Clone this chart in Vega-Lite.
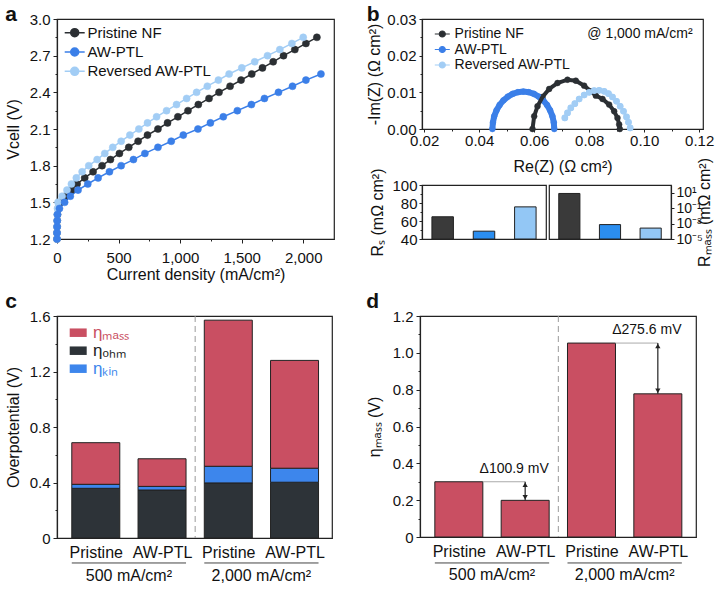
{
"$schema":"https://vega.github.io/schema/vega-lite/v6.json",
"background":"white",
"padding":{"left":4,"top":3,"right":0,"bottom":0},
"config":{
 "font":"Liberation Sans",
 "view":{"stroke":"#222","strokeWidth":1.2},
 "axis":{"grid":false,"domainColor":"#222","tickColor":"#222","labelColor":"#111","titleColor":"#111","labelFontSize":15,"titleFontSize":16,"titleFontWeight":"normal","tickSize":4,"domainWidth":1.2,"labelPadding":3,"labelFlush":false,"labelOverlap":false},
 "title":{"fontSize":21,"fontWeight":"bold","anchor":"start","frame":"bounds","color":"#111"},
 "legend":{"labelFontSize":15,"labelColor":"#111"}
},
"datasets":{
 "curves":[
  {"s":"Pristine NF","j":0,"v":1.2},{"s":"Pristine NF","j":0,"v":1.25},{"s":"Pristine NF","j":1,"v":1.3},{"s":"Pristine NF","j":2,"v":1.35},{"s":"Pristine NF","j":4,"v":1.4},{"s":"Pristine NF","j":10,"v":1.45},
  {"s":"Pristine NF","j":27,"v":1.5},{"s":"Pristine NF","j":68,"v":1.55},{"s":"Pristine NF","j":117,"v":1.6},{"s":"Pristine NF","j":163,"v":1.65},{"s":"Pristine NF","j":225,"v":1.7},{"s":"Pristine NF","j":293,"v":1.75},{"s":"Pristine NF","j":366,"v":1.8},{"s":"Pristine NF","j":434,"v":1.85},{"s":"Pristine NF","j":507,"v":1.9},{"s":"Pristine NF","j":583,"v":1.95},
  {"s":"Pristine NF","j":659,"v":2.0},{"s":"Pristine NF","j":735,"v":2.05},{"s":"Pristine NF","j":820,"v":2.1},{"s":"Pristine NF","j":898,"v":2.15},{"s":"Pristine NF","j":982,"v":2.2},{"s":"Pristine NF","j":1064,"v":2.25},{"s":"Pristine NF","j":1148,"v":2.3},{"s":"Pristine NF","j":1235,"v":2.35},{"s":"Pristine NF","j":1316,"v":2.4},{"s":"Pristine NF","j":1406,"v":2.45},
  {"s":"Pristine NF","j":1495,"v":2.5},{"s":"Pristine NF","j":1582,"v":2.55},{"s":"Pristine NF","j":1669,"v":2.6},{"s":"Pristine NF","j":1756,"v":2.65},{"s":"Pristine NF","j":1840,"v":2.7},{"s":"Pristine NF","j":1932,"v":2.75},{"s":"Pristine NF","j":2022,"v":2.8},{"s":"Pristine NF","j":2111,"v":2.85},
  {"s":"Reversed AW-PTL","j":0,"v":1.2},{"s":"Reversed AW-PTL","j":0,"v":1.25},{"s":"Reversed AW-PTL","j":0,"v":1.3},{"s":"Reversed AW-PTL","j":1,"v":1.35},{"s":"Reversed AW-PTL","j":2,"v":1.4},{"s":"Reversed AW-PTL","j":4,"v":1.45},
  {"s":"Reversed AW-PTL","j":8,"v":1.5},{"s":"Reversed AW-PTL","j":41,"v":1.55},{"s":"Reversed AW-PTL","j":81,"v":1.6},{"s":"Reversed AW-PTL","j":117,"v":1.65},{"s":"Reversed AW-PTL","j":157,"v":1.7},{"s":"Reversed AW-PTL","j":204,"v":1.75},{"s":"Reversed AW-PTL","j":258,"v":1.8},{"s":"Reversed AW-PTL","j":326,"v":1.85},{"s":"Reversed AW-PTL","j":388,"v":1.9},{"s":"Reversed AW-PTL","j":453,"v":1.95},
  {"s":"Reversed AW-PTL","j":521,"v":2.0},{"s":"Reversed AW-PTL","j":592,"v":2.05},{"s":"Reversed AW-PTL","j":665,"v":2.1},{"s":"Reversed AW-PTL","j":735,"v":2.15},{"s":"Reversed AW-PTL","j":809,"v":2.2},{"s":"Reversed AW-PTL","j":890,"v":2.25},{"s":"Reversed AW-PTL","j":971,"v":2.3},{"s":"Reversed AW-PTL","j":1053,"v":2.35},{"s":"Reversed AW-PTL","j":1134,"v":2.4},{"s":"Reversed AW-PTL","j":1221,"v":2.45},
  {"s":"Reversed AW-PTL","j":1311,"v":2.5},{"s":"Reversed AW-PTL","j":1398,"v":2.55},{"s":"Reversed AW-PTL","j":1501,"v":2.6},{"s":"Reversed AW-PTL","j":1606,"v":2.65},{"s":"Reversed AW-PTL","j":1710,"v":2.7},{"s":"Reversed AW-PTL","j":1810,"v":2.75},{"s":"Reversed AW-PTL","j":1908,"v":2.8},{"s":"Reversed AW-PTL","j":2000,"v":2.85},
  {"s":"AW-PTL","j":0,"v":1.2},{"s":"AW-PTL","j":0,"v":1.25},{"s":"AW-PTL","j":1,"v":1.3},{"s":"AW-PTL","j":2,"v":1.35},{"s":"AW-PTL","j":4,"v":1.4},{"s":"AW-PTL","j":20,"v":1.45},
  {"s":"AW-PTL","j":62,"v":1.5},{"s":"AW-PTL","j":108,"v":1.55},{"s":"AW-PTL","j":171,"v":1.6},{"s":"AW-PTL","j":250,"v":1.65},{"s":"AW-PTL","j":334,"v":1.7},{"s":"AW-PTL","j":426,"v":1.75},{"s":"AW-PTL","j":521,"v":1.8},{"s":"AW-PTL","j":621,"v":1.85},{"s":"AW-PTL","j":714,"v":1.9},{"s":"AW-PTL","j":820,"v":1.95},
  {"s":"AW-PTL","j":928,"v":2.0},{"s":"AW-PTL","j":1026,"v":2.05},{"s":"AW-PTL","j":1145,"v":2.1},{"s":"AW-PTL","j":1246,"v":2.15},{"s":"AW-PTL","j":1351,"v":2.2},{"s":"AW-PTL","j":1465,"v":2.25},{"s":"AW-PTL","j":1579,"v":2.3},{"s":"AW-PTL","j":1685,"v":2.35},{"s":"AW-PTL","j":1799,"v":2.4},{"s":"AW-PTL","j":1913,"v":2.45},
  {"s":"AW-PTL","j":2022,"v":2.5},{"s":"AW-PTL","j":2144,"v":2.55}
 ],
 "eis":[
  {"s":"AW-PTL","x":0.0448,"y":0},{"s":"AW-PTL","x":0.0450,"y":0.00177},{"s":"AW-PTL","x":0.04547,"y":0.00349},{"s":"AW-PTL","x":0.04631,"y":0.0051},{"s":"AW-PTL","x":0.04743,"y":0.00656},{"s":"AW-PTL","x":0.04882,"y":0.00781},{"s":"AW-PTL","x":0.05042,"y":0.00883},{"s":"AW-PTL","x":0.0522,"y":0.00959},{"s":"AW-PTL","x":0.05409,"y":0.01005},{"s":"AW-PTL","x":0.05605,"y":0.0102},
  {"s":"AW-PTL","x":0.05801,"y":0.01005},{"s":"AW-PTL","x":0.0599,"y":0.00959},{"s":"AW-PTL","x":0.06168,"y":0.00883},{"s":"AW-PTL","x":0.06328,"y":0.00781},{"s":"AW-PTL","x":0.06467,"y":0.00656},{"s":"AW-PTL","x":0.06579,"y":0.0051},{"s":"AW-PTL","x":0.06663,"y":0.00349},{"s":"AW-PTL","x":0.06713,"y":0.00177},{"s":"AW-PTL","x":0.0673,"y":0},
  {"s":"Reversed AW-PTL","x":0.07115,"y":0.00303},{"s":"Reversed AW-PTL","x":0.07212,"y":0.00439},{"s":"Reversed AW-PTL","x":0.07333,"y":0.00575},{"s":"Reversed AW-PTL","x":0.07479,"y":0.00692},{"s":"Reversed AW-PTL","x":0.07636,"y":0.00819},{"s":"Reversed AW-PTL","x":0.07818,"y":0.00928},{"s":"Reversed AW-PTL","x":0.08,"y":0.01},{"s":"Reversed AW-PTL","x":0.08182,"y":0.01045},{"s":"Reversed AW-PTL","x":0.08364,"y":0.01054},
  {"s":"Reversed AW-PTL","x":0.08545,"y":0.01027},{"s":"Reversed AW-PTL","x":0.08703,"y":0.00964},{"s":"Reversed AW-PTL","x":0.08848,"y":0.00873},{"s":"Reversed AW-PTL","x":0.08994,"y":0.00756},{"s":"Reversed AW-PTL","x":0.09127,"y":0.0062},{"s":"Reversed AW-PTL","x":0.09248,"y":0.00484},{"s":"Reversed AW-PTL","x":0.09358,"y":0.0033},{"s":"Reversed AW-PTL","x":0.0943,"y":0.00185},{"s":"Reversed AW-PTL","x":0.09491,"y":0.0003},
  {"s":"Pristine NF","x":0.05939,"y":0},{"s":"Pristine NF","x":0.06,"y":0.00348},{"s":"Pristine NF","x":0.06121,"y":0.0062},{"s":"Pristine NF","x":0.06303,"y":0.00873},{"s":"Pristine NF","x":0.06545,"y":0.01091},{"s":"Pristine NF","x":0.06848,"y":0.01254},{"s":"Pristine NF","x":0.07212,"y":0.01344},{"s":"Pristine NF","x":0.07515,"y":0.01317},{"s":"Pristine NF","x":0.07818,"y":0.01181},
  {"s":"Pristine NF","x":0.08061,"y":0.01027},{"s":"Pristine NF","x":0.08242,"y":0.0091},{"s":"Pristine NF","x":0.08485,"y":0.00819},{"s":"Pristine NF","x":0.08727,"y":0.00665},{"s":"Pristine NF","x":0.08909,"y":0.00484},{"s":"Pristine NF","x":0.0903,"y":0.00303},{"s":"Pristine NF","x":0.09091,"y":0.00122},{"s":"Pristine NF","x":0.09115,"y":0}
 ],
 "res":[
  {"s":"Pristine NF","rs":64.7,"rm":8},
  {"s":"AW-PTL","rs":48.7,"rm":0.00074},
  {"s":"Reversed AW-PTL","rs":75.7,"rm":0.00026}
 ],
 "eta":[
  {"pos":1,"grp":"500 mA/cm²","comp":"ohm","v":0.358},{"pos":1,"grp":"500 mA/cm²","comp":"kin","v":0.029},{"pos":1,"grp":"500 mA/cm²","comp":"mass","v":0.300},
  {"pos":2,"grp":"500 mA/cm²","comp":"ohm","v":0.346},{"pos":2,"grp":"500 mA/cm²","comp":"kin","v":0.026},{"pos":2,"grp":"500 mA/cm²","comp":"mass","v":0.199},
  {"pos":3,"grp":"2,000 mA/cm²","comp":"ohm","v":0.397},{"pos":3,"grp":"2,000 mA/cm²","comp":"kin","v":0.120},{"pos":3,"grp":"2,000 mA/cm²","comp":"mass","v":1.053},
  {"pos":4,"grp":"2,000 mA/cm²","comp":"ohm","v":0.402},{"pos":4,"grp":"2,000 mA/cm²","comp":"kin","v":0.101},{"pos":4,"grp":"2,000 mA/cm²","comp":"mass","v":0.777}
 ],
 "mass":[
  {"pos":1,"grp":"500 mA/cm²","v":0.300},
  {"pos":2,"grp":"500 mA/cm²","v":0.1991},
  {"pos":3,"grp":"2,000 mA/cm²","v":1.053},
  {"pos":4,"grp":"2,000 mA/cm²","v":0.7774}
 ],
 "delta":[
  {"p":1,"q":2,"from":0.300,"to":0.1991,"label":"Δ100.9 mV"},
  {"p":3,"q":4,"from":1.053,"to":0.7774,"label":"Δ275.6 mV"}
 ]
},
"resolve":{"scale":{"fill":"independent","stroke":"independent","color":"independent"}},
"bounds":"full",
"spacing":7,
"vconcat":[
 {
  "bounds":"flush","spacing":88,
  "resolve":{"scale":{"fill":"independent","stroke":"independent","color":"independent"}},
  "hconcat":[
   {
    "width":277,"height":220,
    "title":{"text":"a","offset":-13},
    "data":{"name":"curves"},
    "resolve":{"axis":{"x":"independent","y":"independent"}},
    "layer":[
     {"mark":{"type":"line","strokeWidth":1.5},
      "encoding":{
       "x":{"field":"j","type":"quantitative","scale":{"domain":[0,2250],"nice":false},"axis":{"title":"Current density (mA/cm²)","values":[0,500,1000,1500,2000],"format":",d","labelOverlap":false,"labelPadding":7,"titlePadding":1}},
       "y":{"field":"v","type":"quantitative","scale":{"domain":[1.2,3.0],"nice":false,"zero":false},"axis":{"title":"Vcell (V)","values":[1.2,1.5,1.8,2.1,2.4,2.7,3.0],"format":".1f","labelOverlap":false,"labelPadding":3,"titlePadding":8}},
       "stroke":{"field":"s","type":"nominal","scale":{"domain":["Pristine NF","AW-PTL","Reversed AW-PTL"],"range":["#2b2f33","#3b7fe8","#a2cdf5"]},"legend":{"title":null,"orient":"none","legendX":8.7,"legendY":4.7,"symbolType":"M-1.25,0H1.25M0.5,0A0.5,0.5,0,1,1,-0.5,0A0.5,0.5,0,1,1,0.5,0Z","symbolSize":256,"symbolStrokeWidth":1.5,"labelFontSize":15,"labelOffset":3.7,"rowPadding":2.3,"padding":0}},
       "order":{"field":"v","type":"quantitative"}
      }},
     {"mark":{"type":"point","filled":true,"size":50,"opacity":1,"strokeWidth":0.5},
      "encoding":{
       "x":{"field":"j","type":"quantitative","axis":{"orient":"bottom","title":null,"values":[250,750,1250,1750],"labels":false,"domain":false,"tickSize":2}},
       "y":{"field":"v","type":"quantitative","axis":{"orient":"left","title":null,"values":[1.35,1.65,1.95,2.25,2.55,2.85],"labels":false,"domain":false,"tickSize":2}},
       "fill":{"field":"s","type":"nominal","scale":{"domain":["Pristine NF","AW-PTL","Reversed AW-PTL"],"range":["#2b2f33","#3b7fe8","#a2cdf5"]},"legend":{"title":null,"orient":"none","legendX":8.7,"legendY":4.7,"symbolType":"M-1.25,0H1.25M0.5,0A0.5,0.5,0,1,1,-0.5,0A0.5,0.5,0,1,1,0.5,0Z","symbolSize":256,"symbolStrokeWidth":1.5,"labelFontSize":15,"labelOffset":3.7,"rowPadding":2.3,"padding":0}},
       "stroke":{"field":"s","type":"nominal","scale":{"domain":["Pristine NF","AW-PTL","Reversed AW-PTL"],"range":["#2b2f33","#3b7fe8","#a2cdf5"]},"legend":{"title":null,"orient":"none","legendX":8.7,"legendY":4.7,"symbolType":"M-1.25,0H1.25M0.5,0A0.5,0.5,0,1,1,-0.5,0A0.5,0.5,0,1,1,0.5,0Z","symbolSize":256,"symbolStrokeWidth":1.5,"labelFontSize":15,"labelOffset":3.7,"rowPadding":2.3,"padding":0}}
      }}
    ]
   },
   {
    "bounds":"flush","spacing":56,
    "resolve":{"scale":{"fill":"independent","stroke":"independent","color":"independent"}},
    "vconcat":[
     {
      "width":281,"height":110,
      "title":{"text":"b","offset":-13},
      "resolve":{"axis":{"x":"independent","y":"independent"}},
      "layer":[
       {"data":{"name":"eis"},"mark":{"type":"line","strokeWidth":1.2},
        "encoding":{
         "x":{"field":"x","type":"quantitative","scale":{"domain":[0.0192,0.1214],"nice":false,"zero":false},"axis":{"title":"Re(Z) (Ω cm²)","values":[0.02,0.04,0.06,0.08,0.1,0.12],"format":".2f","labelOverlap":false,"tickSize":3,"labelPadding":1,"titlePadding":10}},
         "y":{"field":"y","type":"quantitative","scale":{"domain":[0,0.03],"nice":false},"axis":{"title":"-Im(Z) (Ω cm²)","values":[0,0.01,0.02,0.03],"format":".2f","labelOverlap":false,"tickSize":3,"labelPadding":3,"titlePadding":4}},
         "stroke":{"field":"s","type":"nominal","scale":{"domain":["Pristine NF","AW-PTL","Reversed AW-PTL"],"range":["#2b2f33","#3b7fe8","#a2cdf5"]},"legend":{"title":null,"orient":"none","legendX":13.3,"legendY":8,"symbolType":"M-1.25,0H1.25M0.5,0A0.5,0.5,0,1,1,-0.5,0A0.5,0.5,0,1,1,0.5,0Z","symbolSize":144,"symbolStrokeWidth":1.2,"labelFontSize":14,"labelOffset":5.3,"rowPadding":1.5,"padding":0}}
        }},
       {"data":{"name":"eis"},"mark":{"type":"point","filled":true,"opacity":1,"strokeWidth":0.5,"size":34},
        "encoding":{
         "x":{"field":"x","type":"quantitative","axis":{"orient":"bottom","title":null,"values":[0.03,0.05,0.07,0.09,0.11],"labels":false,"domain":false,"tickSize":2}},
         "y":{"field":"y","type":"quantitative","axis":{"orient":"left","title":null,"values":[0.005,0.015,0.025],"labels":false,"domain":false,"tickSize":2}},
         "fill":{"field":"s","type":"nominal","scale":{"domain":["Pristine NF","AW-PTL","Reversed AW-PTL"],"range":["#2b2f33","#3b7fe8","#a2cdf5"]},"legend":{"title":null,"orient":"none","legendX":13.3,"legendY":8,"symbolType":"M-1.25,0H1.25M0.5,0A0.5,0.5,0,1,1,-0.5,0A0.5,0.5,0,1,1,0.5,0Z","symbolSize":144,"symbolStrokeWidth":1.2,"labelFontSize":14,"labelOffset":5.3,"rowPadding":1.5,"padding":0}},
         "stroke":{"field":"s","type":"nominal","scale":{"domain":["Pristine NF","AW-PTL","Reversed AW-PTL"],"range":["#2b2f33","#3b7fe8","#a2cdf5"]},"legend":{"title":null,"orient":"none","legendX":13.3,"legendY":8,"symbolType":"M-1.25,0H1.25M0.5,0A0.5,0.5,0,1,1,-0.5,0A0.5,0.5,0,1,1,0.5,0Z","symbolSize":144,"symbolStrokeWidth":1.2,"labelFontSize":14,"labelOffset":5.3,"rowPadding":1.5,"padding":0}}
        }},
       {"data":{"name":"eis"},"transform":[{"filter":"datum.s == 'AW-PTL'"}],"mark":{"type":"line","strokeWidth":6,"color":"#3b7fe8"},
        "encoding":{"x":{"field":"x","type":"quantitative","axis":null},"y":{"field":"y","type":"quantitative","axis":null}}},
       {"data":{"name":"eis"},"transform":[{"filter":"datum.s == 'Pristine NF'"}],"mark":{"type":"line","strokeWidth":4,"color":"#2b2f33"},
        "encoding":{"x":{"field":"x","type":"quantitative","axis":null},"y":{"field":"y","type":"quantitative","axis":null}}},
       {"data":{"name":"eis"},"transform":[{"filter":"datum.s == 'Reversed AW-PTL'"}],"mark":{"type":"point","filled":true,"opacity":1,"size":44,"color":"#a2cdf5"},
        "encoding":{"x":{"field":"x","type":"quantitative","axis":null},"y":{"field":"y","type":"quantitative","axis":null}}},
       {"data":{"values":[{"note":"@ 1,000 mA/cm²"}]},"mark":{"type":"text","align":"right","baseline":"middle","fontSize":14,"color":"#111"},
        "encoding":{"x":{"datum":0.1176,"type":"quantitative","axis":null},"y":{"datum":0.0259,"type":"quantitative","axis":null},"text":{"field":"note","type":"nominal"}}}
      ]
     },
     {
      "bounds":"flush","spacing":3,
      "resolve":{"scale":{"fill":"independent","stroke":"independent","color":"independent"}},
      "hconcat":[
       {"width":124,"height":54,"data":{"name":"res"},
        "resolve":{"axis":{"y":"independent"}},
        "layer":[
         {"mark":{"type":"bar","clip":true,"stroke":"#222","strokeWidth":1},
          "encoding":{
           "x":{"field":"s","type":"nominal","sort":["Pristine NF","AW-PTL","Reversed AW-PTL"],"scale":{"paddingInner":0.48,"paddingOuter":0.24},"axis":null},
           "y":{"field":"rs","type":"quantitative","scale":{"domain":[40,100],"nice":false,"zero":false},"axis":{"title":"Rₛ (mΩ cm²)","values":[40,60,80,100],"labelOverlap":false,"tickSize":3,"labelPadding":2,"titlePadding":6}},
           "y2":{"datum":40},
           "fill":{"field":"s","type":"nominal","scale":{"domain":["Pristine NF","AW-PTL","Reversed AW-PTL"],"range":["#3a3a3a","#2b8ef0","#93c7f5"]},"legend":null}
          }},
         {"mark":{"type":"point","opacity":0},
          "encoding":{
           "x":{"field":"s","type":"nominal","sort":["Pristine NF","AW-PTL","Reversed AW-PTL"],"axis":null},
           "y":{"field":"rs","type":"quantitative","axis":{"orient":"left","title":null,"values":[50,70,90],"labels":false,"domain":false,"tickSize":2}}
          }}
        ]},
       {"width":122,"height":54,"data":{"name":"res"},
        "mark":{"type":"bar","clip":true,"stroke":"#222","strokeWidth":1},
        "encoding":{
         "x":{"field":"s","type":"nominal","sort":["Pristine NF","AW-PTL","Reversed AW-PTL"],"scale":{"paddingInner":0.48,"paddingOuter":0.24},"axis":null},
         "y":{"field":"rm","type":"quantitative","scale":{"type":"log","domain":[0.00001,100],"nice":false},"axis":{"orient":"right","title":"Rₘₐₛₛ (mΩ cm²)","titleAngle":270,"values":[0.00001,0.001,0.1,10],"labelExpr":"datum.value > 1 ? '10¹' : datum.value > 0.01 ? '10⁻¹' : datum.value > 0.0001 ? '10⁻³' : '10⁻⁵'","tickSize":3,"labelOverlap":false,"labelFontSize":14,"labelPadding":2,"titlePadding":10}},
         "y2":{"datum":0.00001},
         "fill":{"field":"s","type":"nominal","scale":{"domain":["Pristine NF","AW-PTL","Reversed AW-PTL"],"range":["#3a3a3a","#2b8ef0","#93c7f5"]},"legend":null}
        }}
      ]
     }
    ]
   }
  ]
 },
 {
  "bounds":"flush","spacing":88,
  "resolve":{"scale":{"fill":"independent","stroke":"independent","color":"independent"}},
  "hconcat":[
   {
    "width":275,"height":222,
    "title":{"text":"c","offset":-3},
    "resolve":{"axis":{"y":"independent"}},
    "layer":[
     {"data":{"name":"eta"},
      "transform":[{"calculate":"indexof(['ohm','kin','mass'], datum.comp)","as":"stackorder"}],
      "mark":{"type":"bar","width":48,"orient":"vertical","stroke":"#222","strokeWidth":1},
      "encoding":{
       "x":{"field":"pos","type":"quantitative","scale":{"domain":[0.49,4.49],"nice":false,"zero":false},"axis":{"title":null,"values":[1,2,3,4],"labelExpr":"datum.value % 2 == 1 ? 'Pristine' : 'AW-PTL'","ticks":false,"labelOverlap":false,"labelPadding":6,"labelFontSize":16}},
       "y":{"field":"v","type":"quantitative","stack":"zero","scale":{"domain":[0,1.6],"nice":false},"axis":{"title":"Overpotential (V)","values":[0,0.4,0.8,1.2,1.6],"labelExpr":"datum.value == 0 ? '0' : format(datum.value, '.1f')","labelOverlap":false,"labelPadding":3,"titlePadding":8}},
       "order":{"field":"stackorder","type":"quantitative","sort":"ascending"},
       "fill":{"field":"comp","type":"nominal","scale":{"domain":["mass","ohm","kin"],"range":["#c94f62","#2d3338","#3d86ec"]},"legend":{"title":null,"orient":"none","legendX":12.7,"legendY":8.2,"symbolType":"M-1,-0.5H1V0.5H-1Z","symbolSize":289,"symbolStrokeWidth":0,"labelFontSize":17,"labelOffset":6.3,"rowPadding":0,"padding":0,"labelExpr":"datum.value == 'mass' ? 'ηₘₐₛₛ' : datum.value == 'ohm' ? 'ηₒₕₘ' : 'ηₖᵢₙ'","labelColor":{"expr":"datum.value == 'mass' ? '#c94f62' : datum.value == 'kin' ? '#3d86ec' : '#222222'"}}}
      }},
     {"data":{"name":"eta"},"mark":{"type":"point","opacity":0},
      "encoding":{"x":{"field":"pos","type":"quantitative"},"y":{"field":"v","type":"quantitative","axis":{"orient":"left","title":null,"values":[0.2,0.6,1.0,1.4],"labels":false,"domain":false,"tickSize":2}}}},
     {"data":{"values":[{"sep":"groups"}]},"mark":{"type":"rule","strokeDash":[6,4],"stroke":"#9a9a9a","strokeWidth":1},
      "encoding":{"x":{"datum":2.5,"type":"quantitative"}}},
     {"data":{"name":"eta"},
      "transform":[{"aggregate":[{"op":"min","field":"pos","as":"lo"},{"op":"max","field":"pos","as":"hi"}],"groupby":["grp"]}],
      "mark":{"type":"rule","xOffset":-24,"x2Offset":24,"stroke":"#444444","strokeWidth":1},
      "encoding":{"x":{"field":"lo","type":"quantitative"},"x2":{"field":"hi"},"y":{"datum":-0.18,"type":"quantitative","axis":null}}},
     {"data":{"name":"eta"},
      "transform":[{"aggregate":[{"op":"mean","field":"pos","as":"mid"}],"groupby":["grp"]}],
      "mark":{"type":"text","fontSize":16,"baseline":"middle","color":"#111"},
      "encoding":{"x":{"field":"mid","type":"quantitative"},"y":{"datum":-0.275,"type":"quantitative","axis":null},"text":{"field":"grp"}}}
    ]
   },
   {
    "width":276,"height":221,
    "title":{"text":"d","offset":-3},
    "resolve":{"axis":{"y":"independent"}},
    "layer":[
     {"data":{"name":"mass"},"mark":{"type":"bar","width":48,"orient":"vertical","fill":"#c94f62","stroke":"#222","strokeWidth":1},
      "encoding":{
       "x":{"field":"pos","type":"quantitative","scale":{"domain":[0.49,4.5],"nice":false,"zero":false},"axis":{"title":null,"values":[1,2,3,4],"labelExpr":"datum.value % 2 == 1 ? 'Pristine' : 'AW-PTL'","ticks":false,"labelOverlap":false,"labelPadding":6,"labelFontSize":16}},
       "y":{"field":"v","type":"quantitative","scale":{"domain":[0,1.2],"nice":false},"axis":{"title":"ηₘₐₛₛ (V)","values":[0,0.2,0.4,0.6,0.8,1.0,1.2],"labelExpr":"datum.value == 0 ? '0' : format(datum.value, '.1f')","labelOverlap":false,"labelPadding":3,"titlePadding":10}}
      }},
     {"data":{"name":"mass"},"mark":{"type":"point","opacity":0},
      "encoding":{"x":{"field":"pos","type":"quantitative"},"y":{"field":"v","type":"quantitative","axis":{"orient":"left","title":null,"values":[0.1,0.3,0.5,0.7,0.9,1.1],"labels":false,"domain":false,"tickSize":2}}}},
     {"data":{"values":[{"sep":"groups"}]},"mark":{"type":"rule","strokeDash":[6,4],"stroke":"#9a9a9a","strokeWidth":1},
      "encoding":{"x":{"datum":2.5,"type":"quantitative"}}},
     {"data":{"name":"mass"},
      "transform":[{"aggregate":[{"op":"min","field":"pos","as":"lo"},{"op":"max","field":"pos","as":"hi"}],"groupby":["grp"]}],
      "mark":{"type":"rule","xOffset":-24,"x2Offset":24,"stroke":"#444444","strokeWidth":1},
      "encoding":{"x":{"field":"lo","type":"quantitative"},"x2":{"field":"hi"},"y":{"datum":-0.141,"type":"quantitative","axis":null}}},
     {"data":{"name":"mass"},
      "transform":[{"aggregate":[{"op":"mean","field":"pos","as":"mid"}],"groupby":["grp"]}],
      "mark":{"type":"text","fontSize":16,"baseline":"middle","color":"#111"},
      "encoding":{"x":{"field":"mid","type":"quantitative"},"y":{"datum":-0.208,"type":"quantitative","axis":null},"text":{"field":"grp"}}},
     {"data":{"name":"delta"},"mark":{"type":"rule","stroke":"#aaaaaa","strokeWidth":1,"xOffset":24},
      "encoding":{"x":{"field":"p","type":"quantitative"},"x2":{"field":"q"},"y":{"field":"from","type":"quantitative","axis":null}}},
     {"data":{"name":"delta"},"mark":{"type":"rule","stroke":"#222","strokeWidth":1.2},
      "encoding":{"x":{"field":"q","type":"quantitative"},"y":{"field":"from","type":"quantitative","axis":null},"y2":{"field":"to"}}},
     {"data":{"name":"delta"},"mark":{"type":"point","shape":"triangle-up","filled":true,"color":"#222","size":28,"opacity":1,"yOffset":3},
      "encoding":{"x":{"field":"q","type":"quantitative"},"y":{"field":"from","type":"quantitative","axis":null}}},
     {"data":{"name":"delta"},"mark":{"type":"point","shape":"triangle-down","filled":true,"color":"#222","size":28,"opacity":1,"yOffset":-3},
      "encoding":{"x":{"field":"q","type":"quantitative"},"y":{"field":"to","type":"quantitative","axis":null}}},
     {"data":{"name":"delta"},"mark":{"type":"text","fontSize":14,"dx":-11,"dy":-13,"baseline":"middle","color":"#111"},
      "encoding":{"x":{"field":"q","type":"quantitative"},"y":{"field":"from","type":"quantitative","axis":null},"text":{"field":"label"}}}
    ]
   }
  ]
 }
]
}
